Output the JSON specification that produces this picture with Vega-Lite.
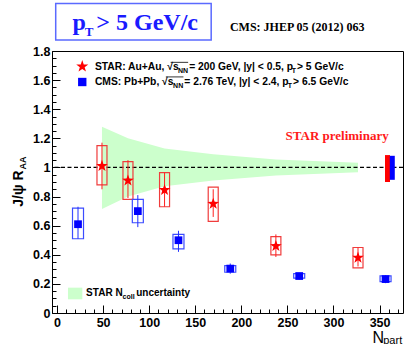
{
  "$schema": "https://vega.github.io/schema/vega-lite/v6.json",
  "width": 351,
  "height": 262,
  "autosize": "none",
  "padding": {"left": 52, "top": 51, "right": 1, "bottom": 31},
  "background": "white",
  "config": {
    "view": {"stroke": "black", "strokeWidth": 1},
    "axis": {"grid": false, "domain": false, "title": null, "tickColor": "black", "tickWidth": 1, "labelFont": "Liberation Sans", "labelFontWeight": "bold", "labelFontSize": 12.5, "labelColor": "black", "labelFlush": false, "labelOverlap": false}
  },
  "data": {"values": [{}]},
  "datasets": {
    "star": [
      {"Npart": 48.8, "R": 1.01, "elo": 0.85, "ehi": 1.17, "slo": 0.88, "shi": 1.15},
      {"Npart": 77, "R": 0.91, "elo": 0.79, "ehi": 1.05, "slo": 0.78, "shi": 1.04},
      {"Npart": 116.7, "R": 0.845, "elo": 0.73, "ehi": 0.965, "slo": 0.73, "shi": 0.965},
      {"Npart": 169.5, "R": 0.75, "elo": 0.66, "ehi": 0.85, "slo": 0.63, "shi": 0.865},
      {"Npart": 237.5, "R": 0.46, "elo": 0.385, "ehi": 0.54, "slo": 0.4, "shi": 0.525},
      {"Npart": 326.6, "R": 0.38, "elo": 0.32, "ehi": 0.45, "slo": 0.31, "shi": 0.45}
    ],
    "cms": [
      {"Npart": 22.8, "R": 0.61, "elo": 0.51, "ehi": 0.73, "slo": 0.51, "shi": 0.72},
      {"Npart": 87.7, "R": 0.7, "elo": 0.59, "ehi": 0.81, "slo": 0.62, "shi": 0.78},
      {"Npart": 131.8, "R": 0.5, "elo": 0.42, "ehi": 0.565, "slo": 0.44, "shi": 0.54},
      {"Npart": 188, "R": 0.305, "elo": 0.27, "ehi": 0.34, "slo": 0.28, "shi": 0.325},
      {"Npart": 262.8, "R": 0.254, "elo": 0.23, "ehi": 0.275, "slo": 0.24, "shi": 0.27},
      {"Npart": 356.5, "R": 0.233, "elo": 0.205, "ehi": 0.26, "slo": 0.215, "shi": 0.255}
    ],
    "band": [
      {"Npart": 48.8, "lo": 0.715, "hi": 1.28},
      {"Npart": 77, "lo": 0.8, "hi": 1.2},
      {"Npart": 116.7, "lo": 0.87, "hi": 1.13},
      {"Npart": 169.5, "lo": 0.91, "hi": 1.09},
      {"Npart": 237.5, "lo": 0.945, "hi": 1.055},
      {"Npart": 326.6, "lo": 0.967, "hi": 1.033}
    ],
    "glob": [
      {"exp": "STAR", "Npart": 358.6, "lo": 0.9, "hi": 1.085},
      {"exp": "CMS", "Npart": 363.8, "lo": 0.915, "hi": 1.08}
    ]
  },
  "layer": [
    {
      "data": {"name": "band"},
      "mark": {"type": "area", "color": "#ccffcc", "opacity": 1},
      "encoding": {
        "x": {"field": "Npart", "type": "quantitative", "scale": {"domain": [0, 370], "nice": false, "zero": false},
              "axis": {"orient": "bottom", "values": [0,10,20,30,40,50,60,70,80,90,100,110,120,130,140,150,160,170,180,190,200,210,220,230,240,250,260,270,280,290,300,310,320,330,340,350,360,370], "tickSize": -4, "labels": false}},
        "y": {"field": "lo", "type": "quantitative", "scale": {"domain": [0, 1.8], "nice": false, "zero": false},
              "axis": {"orient": "left", "values": [0,0.05,0.1,0.15,0.2,0.25,0.3,0.35,0.4,0.45,0.5,0.55,0.6,0.65,0.7,0.75,0.8,0.85,0.9,0.95,1,1.05,1.1,1.15,1.2,1.25,1.3,1.35,1.4,1.45,1.5,1.55,1.6,1.65,1.7,1.75,1.8], "tickSize": -4, "labels": false}},
        "y2": {"field": "hi"}
      }
    },
    {
      "mark": {"type": "rule", "color": "black", "strokeWidth": 1.3, "strokeDash": [4, 2.5]},
      "encoding": {"y": {"datum": 1, "type": "quantitative", "scale": {"domain": [0, 1.8], "nice": false, "zero": false}, "axis": null}}
    },
    {
      "data": {"name": "star"},
      "mark": {"type": "bar", "size": 10, "fillOpacity": 0, "stroke": "#f03c3c", "strokeWidth": 1.2},
      "encoding": {
        "x": {"field": "Npart", "type": "quantitative", "scale": {"domain": [0, 370], "nice": false, "zero": false},
              "axis": {"orient": "bottom", "values": [0,50,100,150,200,250,300,350], "tickSize": -8, "labelPadding": 11.5}},
        "y": {"field": "slo", "type": "quantitative", "scale": {"domain": [0, 1.8], "nice": false, "zero": false},
              "axis": {"orient": "left", "values": [0,0.2,0.4,0.6,0.8,1,1.2,1.4,1.6,1.8], "format": "~g", "tickSize": -8, "labelPadding": 10}},
        "y2": {"field": "shi"}
      }
    },
    {
      "data": {"name": "cms"},
      "mark": {"type": "bar", "size": 11, "fillOpacity": 0, "stroke": "#3c4cff", "strokeWidth": 1.2},
      "encoding": {
        "x": {"field": "Npart", "type": "quantitative", "scale": {"domain": [0, 370], "nice": false, "zero": false}, "axis": null},
        "y": {"field": "slo", "type": "quantitative", "scale": {"domain": [0, 1.8], "nice": false, "zero": false}, "axis": null},
        "y2": {"field": "shi"}
      }
    },
    {
      "data": {"name": "star"},
      "mark": {"type": "rule", "color": "#ff2020", "strokeWidth": 1},
      "encoding": {
        "x": {"field": "Npart", "type": "quantitative", "scale": {"domain": [0, 370], "nice": false, "zero": false}, "axis": null},
        "y": {"field": "elo", "type": "quantitative", "scale": {"domain": [0, 1.8], "nice": false, "zero": false}, "axis": null},
        "y2": {"field": "ehi"}
      }
    },
    {
      "data": {"name": "cms"},
      "mark": {"type": "rule", "color": "#2030ff", "strokeWidth": 1},
      "encoding": {
        "x": {"field": "Npart", "type": "quantitative", "scale": {"domain": [0, 370], "nice": false, "zero": false}, "axis": null},
        "y": {"field": "elo", "type": "quantitative", "scale": {"domain": [0, 1.8], "nice": false, "zero": false}, "axis": null},
        "y2": {"field": "ehi"}
      }
    },
    {
      "data": {"name": "star"},
      "mark": {"type": "point", "shape": "M0,-1L0.235,-0.324L0.951,-0.309L0.38,0.124L0.588,0.809L0,0.4L-0.588,0.809L-0.38,0.124L-0.951,-0.309L-0.235,-0.324Z", "filled": true, "size": 150, "color": "#ff0000", "opacity": 1},
      "encoding": {
        "x": {"field": "Npart", "type": "quantitative", "scale": {"domain": [0, 370], "nice": false, "zero": false}, "axis": null},
        "y": {"field": "R", "type": "quantitative", "scale": {"domain": [0, 1.8], "nice": false, "zero": false}, "axis": null}
      }
    },
    {
      "data": {"name": "cms"},
      "mark": {"type": "point", "shape": "square", "filled": true, "size": 60, "color": "#0000ff", "opacity": 1},
      "encoding": {
        "x": {"field": "Npart", "type": "quantitative", "scale": {"domain": [0, 370], "nice": false, "zero": false}, "axis": null},
        "y": {"field": "R", "type": "quantitative", "scale": {"domain": [0, 1.8], "nice": false, "zero": false}, "axis": null}
      }
    },
    {
      "data": {"name": "glob"},
      "mark": {"type": "bar", "size": 5, "opacity": 1},
      "encoding": {
        "x": {"field": "Npart", "type": "quantitative", "scale": {"domain": [0, 370], "nice": false, "zero": false}, "axis": null},
        "y": {"field": "lo", "type": "quantitative", "scale": {"domain": [0, 1.8], "nice": false, "zero": false}, "axis": null},
        "y2": {"field": "hi"},
        "color": {"field": "exp", "type": "nominal", "scale": {"domain": ["STAR", "CMS"], "range": ["#ff0000", "#0000ff"]}, "legend": null}
      }
    },
    {
      "mark": {"type": "point", "shape": "M0,-1L0.235,-0.324L0.951,-0.309L0.38,0.124L0.588,0.809L0,0.4L-0.588,0.809L-0.38,0.124L-0.951,-0.309L-0.235,-0.324Z", "filled": true, "size": 160, "color": "#ff0000", "opacity": 1},
      "encoding": {"x": {"datum": 27.4, "type": "quantitative", "scale": {"domain": [0, 370], "nice": false, "zero": false}, "axis": null}, "y": {"datum": 1.694, "type": "quantitative", "scale": {"domain": [0, 1.8], "nice": false, "zero": false}, "axis": null}}
    },
    {
      "mark": {"type": "point", "shape": "square", "filled": true, "size": 70, "color": "#0000ff", "opacity": 1},
      "encoding": {"x": {"datum": 27.4, "type": "quantitative", "scale": {"domain": [0, 370], "nice": false, "zero": false}, "axis": null}, "y": {"datum": 1.587, "type": "quantitative", "scale": {"domain": [0, 1.8], "nice": false, "zero": false}, "axis": null}}
    },
    {
      "mark": {"type": "text", "text": "STAR: Au+Au, √s", "align": "left", "baseline": "middle", "font": "Liberation Sans", "fontSize": 10.3, "fontWeight": "bold", "color": "black"},
      "encoding": {"x": {"datum": 41.1, "type": "quantitative", "scale": {"domain": [0, 370], "nice": false, "zero": false}, "axis": null}, "y": {"datum": 1.687, "type": "quantitative", "scale": {"domain": [0, 1.8], "nice": false, "zero": false}, "axis": null}}
    },
    {
      "mark": {"type": "text", "text": "NN", "align": "left", "baseline": "middle", "font": "Liberation Sans", "fontSize": 7, "fontWeight": "bold", "color": "black"},
      "encoding": {"x": {"datum": 131.2, "type": "quantitative", "scale": {"domain": [0, 370], "nice": false, "zero": false}, "axis": null}, "y": {"datum": 1.662, "type": "quantitative", "scale": {"domain": [0, 1.8], "nice": false, "zero": false}, "axis": null}}
    },
    {
      "mark": {"type": "rule", "color": "black", "strokeWidth": 0.8},
      "encoding": {"x": {"datum": 123.3, "type": "quantitative", "scale": {"domain": [0, 370], "nice": false, "zero": false}, "axis": null}, "x2": {"datum": 142.3}, "y": {"datum": 1.722, "type": "quantitative", "scale": {"domain": [0, 1.8], "nice": false, "zero": false}, "axis": null}}
    },
    {
      "mark": {"type": "text", "text": "= 200 GeV, |y| < 0.5, p", "align": "left", "baseline": "middle", "font": "Liberation Sans", "fontSize": 10.3, "fontWeight": "bold", "color": "black"},
      "encoding": {"x": {"datum": 143.4, "type": "quantitative", "scale": {"domain": [0, 370], "nice": false, "zero": false}, "axis": null}, "y": {"datum": 1.687, "type": "quantitative", "scale": {"domain": [0, 1.8], "nice": false, "zero": false}, "axis": null}}
    },
    {
      "mark": {"type": "text", "text": "T", "align": "left", "baseline": "middle", "font": "Liberation Sans", "fontSize": 7, "fontWeight": "bold", "color": "black"},
      "encoding": {"x": {"datum": 254.6, "type": "quantitative", "scale": {"domain": [0, 370], "nice": false, "zero": false}, "axis": null}, "y": {"datum": 1.662, "type": "quantitative", "scale": {"domain": [0, 1.8], "nice": false, "zero": false}, "axis": null}}
    },
    {
      "mark": {"type": "text", "text": "> 5 GeV/c", "align": "left", "baseline": "middle", "font": "Liberation Sans", "fontSize": 10.3, "fontWeight": "bold", "color": "black"},
      "encoding": {"x": {"datum": 260.4, "type": "quantitative", "scale": {"domain": [0, 370], "nice": false, "zero": false}, "axis": null}, "y": {"datum": 1.687, "type": "quantitative", "scale": {"domain": [0, 1.8], "nice": false, "zero": false}, "axis": null}}
    },
    {
      "mark": {"type": "text", "text": "CMS: Pb+Pb, √s", "align": "left", "baseline": "middle", "font": "Liberation Sans", "fontSize": 10.3, "fontWeight": "bold", "color": "black"},
      "encoding": {"x": {"datum": 41.1, "type": "quantitative", "scale": {"domain": [0, 370], "nice": false, "zero": false}, "axis": null}, "y": {"datum": 1.587, "type": "quantitative", "scale": {"domain": [0, 1.8], "nice": false, "zero": false}, "axis": null}}
    },
    {
      "mark": {"type": "text", "text": "NN", "align": "left", "baseline": "middle", "font": "Liberation Sans", "fontSize": 7, "fontWeight": "bold", "color": "black"},
      "encoding": {"x": {"datum": 126.0, "type": "quantitative", "scale": {"domain": [0, 370], "nice": false, "zero": false}, "axis": null}, "y": {"datum": 1.562, "type": "quantitative", "scale": {"domain": [0, 1.8], "nice": false, "zero": false}, "axis": null}}
    },
    {
      "mark": {"type": "rule", "color": "black", "strokeWidth": 0.8},
      "encoding": {"x": {"datum": 118.1, "type": "quantitative", "scale": {"domain": [0, 370], "nice": false, "zero": false}, "axis": null}, "x2": {"datum": 137.2}, "y": {"datum": 1.622, "type": "quantitative", "scale": {"domain": [0, 1.8], "nice": false, "zero": false}, "axis": null}}
    },
    {
      "mark": {"type": "text", "text": "= 2.76 TeV, |y| < 2.4, p", "align": "left", "baseline": "middle", "font": "Liberation Sans", "fontSize": 10.3, "fontWeight": "bold", "color": "black"},
      "encoding": {"x": {"datum": 138.1, "type": "quantitative", "scale": {"domain": [0, 370], "nice": false, "zero": false}, "axis": null}, "y": {"datum": 1.587, "type": "quantitative", "scale": {"domain": [0, 1.8], "nice": false, "zero": false}, "axis": null}}
    },
    {
      "mark": {"type": "text", "text": "T", "align": "left", "baseline": "middle", "font": "Liberation Sans", "fontSize": 7, "fontWeight": "bold", "color": "black"},
      "encoding": {"x": {"datum": 250.4, "type": "quantitative", "scale": {"domain": [0, 370], "nice": false, "zero": false}, "axis": null}, "y": {"datum": 1.562, "type": "quantitative", "scale": {"domain": [0, 1.8], "nice": false, "zero": false}, "axis": null}}
    },
    {
      "mark": {"type": "text", "text": "> 6.5 GeV/c", "align": "left", "baseline": "middle", "font": "Liberation Sans", "fontSize": 10.3, "fontWeight": "bold", "color": "black"},
      "encoding": {"x": {"datum": 256.2, "type": "quantitative", "scale": {"domain": [0, 370], "nice": false, "zero": false}, "axis": null}, "y": {"datum": 1.587, "type": "quantitative", "scale": {"domain": [0, 1.8], "nice": false, "zero": false}, "axis": null}}
    },
    {
      "mark": {"type": "rect", "color": "#ccffcc", "opacity": 1},
      "encoding": {"x": {"datum": 11.9, "type": "quantitative", "scale": {"domain": [0, 370], "nice": false, "zero": false}, "axis": null}, "x2": {"datum": 27.5}, "y": {"datum": 0.094, "type": "quantitative", "scale": {"domain": [0, 1.8], "nice": false, "zero": false}, "axis": null}, "y2": {"datum": 0.174}}
    },
    {
      "mark": {"type": "text", "text": "STAR N", "align": "left", "baseline": "middle", "font": "Liberation Sans", "fontSize": 10, "fontWeight": "bold", "color": "black"},
      "encoding": {"x": {"datum": 31.6, "type": "quantitative", "scale": {"domain": [0, 370], "nice": false, "zero": false}, "axis": null}, "y": {"datum": 0.137, "type": "quantitative", "scale": {"domain": [0, 1.8], "nice": false, "zero": false}, "axis": null}}
    },
    {
      "mark": {"type": "text", "text": "coll", "align": "left", "baseline": "middle", "font": "Liberation Sans", "fontSize": 7, "fontWeight": "bold", "color": "black"},
      "encoding": {"x": {"datum": 71.2, "type": "quantitative", "scale": {"domain": [0, 370], "nice": false, "zero": false}, "axis": null}, "y": {"datum": 0.113, "type": "quantitative", "scale": {"domain": [0, 1.8], "nice": false, "zero": false}, "axis": null}}
    },
    {
      "mark": {"type": "text", "text": "uncertainty", "align": "left", "baseline": "middle", "font": "Liberation Sans", "fontSize": 10, "fontWeight": "bold", "color": "black"},
      "encoding": {"x": {"datum": 85.9, "type": "quantitative", "scale": {"domain": [0, 370], "nice": false, "zero": false}, "axis": null}, "y": {"datum": 0.137, "type": "quantitative", "scale": {"domain": [0, 1.8], "nice": false, "zero": false}, "axis": null}}
    },
    {
      "mark": {"type": "text", "text": "STAR preliminary", "align": "left", "baseline": "middle", "font": "Liberation Serif", "fontSize": 13, "fontWeight": "bold", "color": "#ff1a1a"},
      "encoding": {"x": {"datum": 248.0, "type": "quantitative", "scale": {"domain": [0, 370], "nice": false, "zero": false}, "axis": null}, "y": {"datum": 1.218, "type": "quantitative", "scale": {"domain": [0, 1.8], "nice": false, "zero": false}, "axis": null}}
    },
    {
      "mark": {"type": "rect", "fillOpacity": 0, "stroke": "#5a6aff", "strokeWidth": 1.5},
      "encoding": {"x": {"datum": -1.4, "type": "quantitative", "scale": {"domain": [0, 370], "nice": false, "zero": false}, "axis": null}, "x2": {"datum": 167.3}, "y": {"datum": 1.875, "type": "quantitative", "scale": {"domain": [0, 1.8], "nice": false, "zero": false}, "axis": null}, "y2": {"datum": 2.127}}
    },
    {
      "mark": {"type": "text", "text": "p", "align": "left", "baseline": "alphabetic", "font": "Liberation Serif", "fontSize": 24, "fontWeight": "bold", "color": "#1a1aff"},
      "encoding": {"x": {"datum": 16.9, "type": "quantitative", "scale": {"domain": [0, 370], "nice": false, "zero": false}, "axis": null}, "y": {"datum": 1.941, "type": "quantitative", "scale": {"domain": [0, 1.8], "nice": false, "zero": false}, "axis": null}}
    },
    {
      "mark": {"type": "text", "text": "T", "align": "left", "baseline": "alphabetic", "font": "Liberation Serif", "fontSize": 13, "fontWeight": "bold", "color": "#1a1aff"},
      "encoding": {"x": {"datum": 30.0, "type": "quantitative", "scale": {"domain": [0, 370], "nice": false, "zero": false}, "axis": null}, "y": {"datum": 1.906, "type": "quantitative", "scale": {"domain": [0, 1.8], "nice": false, "zero": false}, "axis": null}}
    },
    {
      "mark": {"type": "text", "text": "> 5 GeV/c", "align": "left", "baseline": "alphabetic", "font": "Liberation Serif", "fontSize": 24, "fontWeight": "bold", "color": "#1a1aff"},
      "encoding": {"x": {"datum": 42.7, "type": "quantitative", "scale": {"domain": [0, 370], "nice": false, "zero": false}, "axis": null}, "y": {"datum": 1.941, "type": "quantitative", "scale": {"domain": [0, 1.8], "nice": false, "zero": false}, "axis": null}}
    },
    {
      "mark": {"type": "text", "text": "CMS: JHEP 05 (2012) 063", "align": "left", "baseline": "middle", "font": "Liberation Serif", "fontSize": 12, "fontWeight": "bold", "color": "black"},
      "encoding": {"x": {"datum": 187.6, "type": "quantitative", "scale": {"domain": [0, 370], "nice": false, "zero": false}, "axis": null}, "y": {"datum": 1.967, "type": "quantitative", "scale": {"domain": [0, 1.8], "nice": false, "zero": false}, "axis": null}}
    },
    {
      "mark": {"type": "text", "text": "J/ψ R", "align": "right", "baseline": "alphabetic", "angle": 270, "font": "Liberation Sans", "fontSize": 14, "fontWeight": "bold", "color": "black"},
      "encoding": {"x": {"datum": -36.4, "type": "quantitative", "scale": {"domain": [0, 370], "nice": false, "zero": false}, "axis": null}, "y": {"datum": 0.979, "type": "quantitative", "scale": {"domain": [0, 1.8], "nice": false, "zero": false}, "axis": null}}
    },
    {
      "mark": {"type": "text", "text": "AA", "align": "left", "baseline": "alphabetic", "angle": 270, "font": "Liberation Sans", "fontSize": 9, "fontWeight": "bold", "color": "black"},
      "encoding": {"x": {"datum": -34.0, "type": "quantitative", "scale": {"domain": [0, 370], "nice": false, "zero": false}, "axis": null}, "y": {"datum": 0.986, "type": "quantitative", "scale": {"domain": [0, 1.8], "nice": false, "zero": false}, "axis": null}}
    },
    {
      "mark": {"type": "text", "text": "N", "align": "left", "baseline": "alphabetic", "font": "Liberation Sans", "fontSize": 16, "color": "black"},
      "encoding": {"x": {"datum": 342.3, "type": "quantitative", "scale": {"domain": [0, 370], "nice": false, "zero": false}, "axis": null}, "y": {"datum": -0.204, "type": "quantitative", "scale": {"domain": [0, 1.8], "nice": false, "zero": false}, "axis": null}}
    },
    {
      "mark": {"type": "text", "text": "part", "align": "left", "baseline": "alphabetic", "font": "Liberation Sans", "fontSize": 11, "color": "black"},
      "encoding": {"x": {"datum": 354.0, "type": "quantitative", "scale": {"domain": [0, 370], "nice": false, "zero": false}, "axis": null}, "y": {"datum": -0.215, "type": "quantitative", "scale": {"domain": [0, 1.8], "nice": false, "zero": false}, "axis": null}}
    }
  ],
  "resolve": {"axis": {"x": "independent", "y": "independent"}}
}
